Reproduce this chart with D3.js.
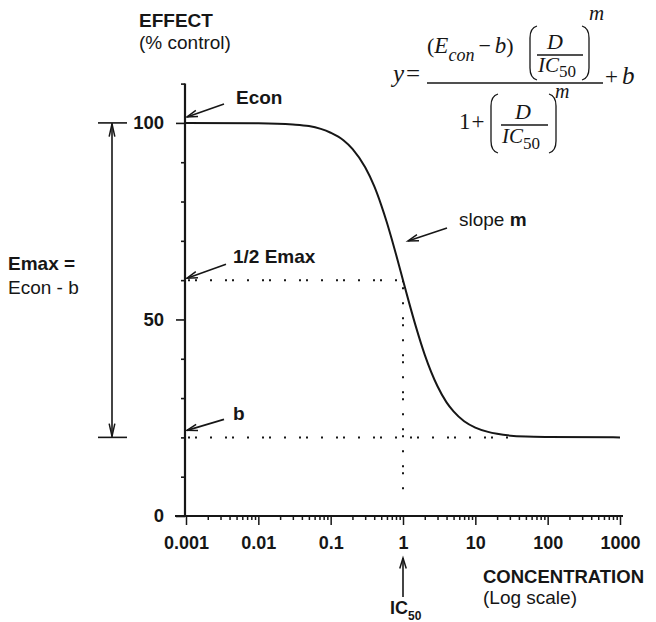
<!DOCTYPE html>
<html><head><meta charset="utf-8">
<script src="https://cdn.jsdelivr.net/npm/d3@7"></script>
<style>
html,body{margin:0;padding:0;background:#fff;}
svg{display:block;}
</style></head>
<body>
<svg id="chart" width="656" height="622"></svg>
<script>
// ---- data ----
const concentrations = [0.001, 0.01, 0.03, 0.05, 0.1, 0.15, 0.2, 0.3, 0.4, 0.5, 0.6, 0.7, 0.8, 1, 1.2, 1.5, 2, 3, 4, 5, 7, 10, 15, 20, 50, 100, 1000];
const effects        = [100, 99.9, 99.6, 99.2, 97.5, 95.6, 93.4, 88.7, 83.9, 79.1, 74.6, 70.4, 66.6, 60, 54.6, 48.3, 41, 33, 28.9, 26.6, 24.1, 22.5, 21.4, 20.9, 20.2, 20.1, 20];
const xTickValues = [0.001, 0.01, 0.1, 1, 10, 100, 1000];
const xTickLabels = ["0.001", "0.01", "0.1", "1", "10", "100", "1000"];
const yMajorTicks = [0, 50, 100];
const yMajorLabels = ["0", "50", "100"];
const yMinorTicks = [10, 20, 30, 40, 60, 70, 80, 90, 110];
const Econ = 100, bVal = 20, halfEmax = 60, IC50 = 1;

const svg = d3.select("#chart");
const ink = "#161616";
const SANS = "'Liberation Sans', Arial, Helvetica, sans-serif";
const SERIF = "'Liberation Serif', 'Times New Roman', serif";

const x = d3.scaleLog().domain([0.001, 1000]).range([186, 620]);
const y = d3.scaleLinear().domain([0, 110]).range([516, 83.6]);
const x0 = x(0.001) - 1;

// ---- axes ----
const gy = svg.append("g").attr("transform", `translate(${x0},0)`);
gy.call(d3.axisLeft(y).tickValues(yMajorTicks).tickFormat((d,i)=>yMajorLabels[i]).tickSize(9).tickPadding(12).tickSizeOuter(0));
const gy2 = svg.append("g").attr("transform", `translate(${x0},0)`);
gy2.call(d3.axisLeft(y).tickValues(yMinorTicks).tickFormat("").tickSize(4).tickSizeOuter(0));
[gy, gy2].forEach(g => { g.select(".domain").remove(); g.selectAll("line").attr("stroke", ink).attr("stroke-width", 1.6); });
gy.selectAll("text").attr("font-family", SANS).attr("font-size", 18.5).attr("font-weight", "bold").attr("fill", ink);

const minorX = [];
for (let e = -3; e < 3; e++) for (let k = 2; k <= 9; k++) minorX.push(k * Math.pow(10, e));
const gx = svg.append("g").attr("transform", `translate(0,${y(0)})`);
gx.call(d3.axisBottom(x).tickValues(xTickValues).tickFormat((d,i)=>xTickLabels[i]).tickSize(9).tickPadding(11).tickSizeOuter(0));
const gx2 = svg.append("g").attr("transform", `translate(0,${y(0)})`);
gx2.call(d3.axisBottom(x).tickValues(minorX).tickFormat("").tickSize(4).tickSizeOuter(0));
[gx, gx2].forEach(g => { g.select(".domain").remove(); g.selectAll("line").attr("stroke", ink).attr("stroke-width", 1.5); });
gx.selectAll("text").attr("font-family", SANS).attr("font-size", 18).attr("font-weight", "bold").attr("fill", ink);

// axis lines
svg.append("line").attr("x1", x0).attr("x2", x0).attr("y1", y(110)).attr("y2", y(0))
  .attr("stroke", ink).attr("stroke-width", 2.2);
svg.append("line").attr("x1", x0 - 10).attr("x2", x(1000) + 3).attr("y1", y(0)).attr("y2", y(0))
  .attr("stroke", ink).attr("stroke-width", 2.2);

// ---- dotted guides ----
const dots = "2,5,2,13,2,13";
function dotted(x1, y1, x2, y2) {
  svg.append("line").attr("x1", x1).attr("y1", y1).attr("x2", x2).attr("y2", y2)
    .attr("stroke", ink).attr("stroke-width", 2).attr("stroke-dasharray", dots);
}
dotted(x0 + 3, y(halfEmax), x(IC50), y(halfEmax));
dotted(x0 + 3, y(bVal), x(40), y(bVal));
dotted(x(IC50), y(halfEmax), x(IC50), y(3.5));

// ---- curve ----
const pts = concentrations.map((c, i) => ({ c, e: effects[i] }));
svg.append("path").datum(pts)
  .attr("d", d3.line().x(d => x(d.c)).y(d => y(d.e)).curve(d3.curveMonotoneX))
  .attr("fill", "none").attr("stroke", ink).attr("stroke-width", 2);

// ---- arrows ----
function head(x1, y1, x2, y2, len, ang) {
  const a = Math.atan2(y1 - y2, x1 - x2);
  const p = [[x2 + len * Math.cos(a + ang), y2 + len * Math.sin(a + ang)], [x2, y2], [x2 + len * Math.cos(a - ang), y2 + len * Math.sin(a - ang)]];
  svg.append("path").attr("d", d3.line()(p)).attr("fill", "none").attr("stroke", ink).attr("stroke-width", 1.5);
}
function arrow(x1, y1, x2, y2) {
  svg.append("line").attr("x1", x1).attr("y1", y1).attr("x2", x2).attr("y2", y2)
    .attr("stroke", ink).attr("stroke-width", 1.6);
  head(x1, y1, x2, y2, 11, 0.3);
}
arrow(x0 + 39, y(Econ) - 19, x0 + 2, y(Econ) - 6);
arrow(x0 + 41, y(halfEmax) - 16, x0 + 2, y(halfEmax) - 2);
arrow(x0 + 39, y(bVal) - 18, x0 + 2, y(bVal) - 7);
arrow(447, 228, 408, 241);
arrow(x(IC50), 597, x(IC50), 558);

// double arrow Emax
const dx = 112;
svg.append("line").attr("x1", dx).attr("x2", dx).attr("y1", y(Econ)).attr("y2", y(bVal)).attr("stroke", ink).attr("stroke-width", 1.6);
head(dx, y(bVal), dx, y(Econ) + 1, 13, 0.22);
head(dx, y(Econ), dx, y(bVal) - 1, 13, 0.22);
svg.append("line").attr("x1", 98).attr("x2", 127).attr("y1", y(Econ)).attr("y2", y(Econ)).attr("stroke", ink).attr("stroke-width", 1.6);
svg.append("line").attr("x1", 98).attr("x2", 127).attr("y1", y(bVal)).attr("y2", y(bVal)).attr("stroke", ink).attr("stroke-width", 1.6);

// ---- text labels ----
function txt(xp, yp, s, o = {}) {
  return svg.append("text").attr("x", xp).attr("y", yp).text(s)
    .attr("font-family", o.family || SANS).attr("font-size", o.size || 19)
    .attr("font-weight", o.bold ? "bold" : "normal")
    .attr("font-style", o.italic ? "italic" : "normal")
    .attr("text-anchor", o.anchor || "start").attr("fill", ink);
}
txt(139, 27, "EFFECT", { bold: true });
txt(139, 49, "(% control)");
txt(236, 104, "Econ", { bold: true });
txt(233, 263, "1/2 Emax", { bold: true });
txt(233, 420, "b", { bold: true });
txt(8, 270, "Emax =", { bold: true });
txt(8, 294, "Econ - b");
const sl = txt(459, 226, "slope ");
sl.append("tspan").attr("font-weight", "bold").text("m");
txt(483, 583, "CONCENTRATION", { bold: true, size: 18.5 });
txt(483, 604, "(Log scale)");
const ic = txt(390, 614, "IC", { bold: true, size: 18 });
ic.append("tspan").attr("font-size", 12).attr("dy", 6).text("50");

// ---- formula ----
function ftxt(xp, yp, s, size, italic) { return txt(xp, yp, s, { family: SERIF, size, italic }); }
function sub(t, s, size, dy, italic, ddx) {
  return t.append("tspan").attr("font-size", size).attr("dy", dy).attr("dx", ddx || 0)
    .attr("font-style", italic ? "italic" : "normal").text(s);
}
function paren(xl, top, bot, dir) {
  const w = 7 * dir;
  const p = `M${xl + w},${top} Q${xl},${top + 2} ${xl},${top + 12} L${xl},${bot - 12} Q${xl},${bot - 2} ${xl + w},${bot}`;
  svg.append("path").attr("d", p).attr("fill", "none").attr("stroke", ink).attr("stroke-width", 1.3);
}
function hline(x1, x2, yy) {
  svg.append("line").attr("x1", x1).attr("x2", x2).attr("y1", yy).attr("y2", yy).attr("stroke", ink).attr("stroke-width", 1.3);
}
const yEq = ftxt(393, 82, "y", 25, true);
sub(yEq, "=", 25, 0, false, 2);
hline(427, 603, 83);
// numerator
const num = ftxt(427, 53, "(", 22, false);
sub(num, "E", 23, 0, true);
sub(num, "con", 18, 8, true);
sub(num, "\u2212", 22, -8, false, 4);
sub(num, "b", 23, 0, true, 4);
sub(num, ")", 22, 0, false);
paren(530, 26, 80, 1);
ftxt(547, 49, "D", 22, true);
hline(537, 583, 55);
const ic1 = ftxt(538, 72, "IC", 21, true);
sub(ic1, "50", 17, 5, false);
paren(589, 26, 80, -1);
ftxt(589, 20, "m", 21, true);
const pb = ftxt(605, 84, "+", 23, false);
sub(pb, "b", 25, 0, true, 4);
// denominator
const one = ftxt(459, 129, "1", 23, false);
sub(one, "+", 23, 0, false, 1);
paren(491, 94, 153, 1);
ftxt(515, 119, "D", 22, true);
hline(501, 548, 125);
const ic2 = ftxt(502, 143, "IC", 21, true);
sub(ic2, "50", 17, 6, false);
paren(556, 94, 153, -1);
ftxt(555, 98, "m", 20, true);
</script>
</body></html>
